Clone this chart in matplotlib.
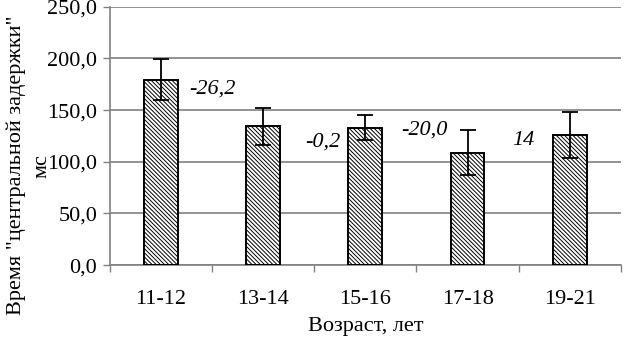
import matplotlib
matplotlib.use("Agg")
import matplotlib.pyplot as plt
import numpy as np

plt.rcParams['font.family'] = 'serif'
plt.rcParams['font.serif'] = ['Liberation Serif', 'DejaVu Serif']
plt.rcParams['hatch.color'] = '#aaaaaa'
plt.rcParams['hatch.linewidth'] = 0.7

ages = ['11-12', '13-14', '15-16', '17-18', '19-21']
means = [179.5, 134.5, 133.0, 108.8, 126.0]
errs = [20.0, 18.0, 12.0, 21.5, 22.0]
notes = ['-26,2', '-0,2', '-20,0', '14']

fig = plt.figure(figsize=(6.24, 3.42), dpi=100)
ax = fig.add_axes([0.176, 0.225, 0.819, 0.755])

x = np.arange(len(ages))
ax.bar(x, means, width=0.33, color='white', edgecolor='black', linewidth=1.4,
       hatch='\\\\\\\\\\\\\\\\', zorder=3)
ax.errorbar(x, means, yerr=errs, fmt='none', ecolor='black', elinewidth=1.3,
            capsize=5.5, capthick=1.3, zorder=4)

# differences between neighbouring groups
ax.text(0.28, 170, notes[0], fontsize=16, style='italic', ha='left', va='center')
ax.text(1.41, 119, notes[1], fontsize=16, style='italic', ha='left', va='center')
ax.text(2.35, 131, notes[2], fontsize=16, style='italic', ha='left', va='center')
ax.text(3.44, 121, notes[3], fontsize=16, style='italic', ha='left', va='center')

ax.set_xlim(-0.5, 4.5)
ax.set_ylim(0, 250)
ax.set_yticks(np.arange(0, 251, 50))
ax.set_yticklabels([('%.1f' % v).replace('.', ',') for v in np.arange(0, 251, 50)], fontsize=16)
ax.set_xticks(x)
ax.set_xticklabels(ages, fontsize=16)
ax.set_xticks(np.arange(-0.5, 4.6, 1), minor=True)
ax.tick_params(axis='x', which='major', length=0, pad=18)
ax.tick_params(axis='x', which='minor', length=5, color='#808080', width=1)
ax.tick_params(axis='y', length=5, color='#808080', width=1, pad=4)

ax.grid(axis='y', color='#808080', linewidth=1.2, zorder=0)
for s in ['top', 'right']:
    ax.spines[s].set_visible(False)
ax.spines['left'].set_color('#808080')
ax.spines['bottom'].set_color('#808080')
ax.spines['left'].set_linewidth(1.2)
ax.spines['bottom'].set_linewidth(1.2)

ax.set_xlabel('Возраст, лет', fontsize=16)
ax.xaxis.set_label_coords(0.5, -0.2)
ax.set_ylabel('Время "центральной задержки"\nмс', fontsize=16, linespacing=1.45)
ax.yaxis.set_label_coords(-0.115, 0.385)

fig.savefig('out.png', dpi=100)
